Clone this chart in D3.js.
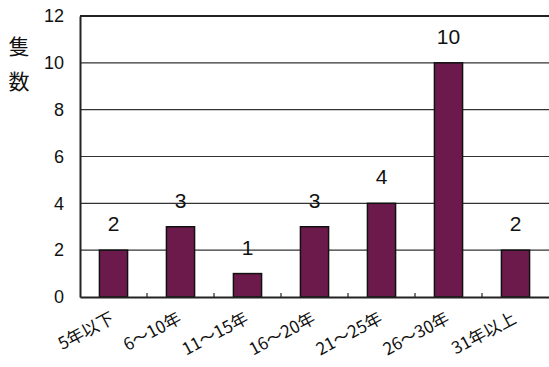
<!DOCTYPE html>
<html>
<head>
<meta charset="utf-8">
<script src="https://cdn.jsdelivr.net/npm/d3@7"></script>
<style>
  body { margin: 0; background: #fff; }
  svg { display: block; }
  text { font-family: "Liberation Sans", Arial, sans-serif; fill: #111; }
  .cjk { font-family: "Noto Sans CJK JP", sans-serif; }
</style>
</head>
<body>
<svg id="chart" width="549" height="367"></svg>
<script>
// categories and values
var categories = ["5年以下", "6～10年", "11～15年", "16～20年", "21～25年", "26～30年", "31年以上"];
var counts = [2, 3, 1, 3, 4, 10, 2];
var yTicks = [0, 2, 4, 6, 8, 10, 12];
var yTitle = ["隻", "数"];

var w = 549, h = 367,
    m = [16, 0, 70, 80]; // top right bottom left

var svg = d3.select("#chart");

var x = d3.scaleBand()
    .domain(categories)
    .range([m[3], w - m[1]])
    .paddingInner(0.58)
    .paddingOuter(0.29);

var y = d3.scaleLinear()
    .domain([0, 12])
    .range([h - m[2], m[0]]);

// gridlines
svg.append("g")
  .selectAll("line")
  .data(yTicks.filter(function (d) { return d > 0 && d < 12; }))
  .enter().append("line")
    .attr("x1", m[3]).attr("x2", w)
    .attr("y1", function (d) { return y(d); })
    .attr("y2", function (d) { return y(d); })
    .attr("stroke", "#333")
    .attr("stroke-width", 1.2);

// top border
svg.append("line")
  .attr("x1", m[3]).attr("x2", w)
  .attr("y1", y(12)).attr("y2", y(12))
  .attr("stroke", "#222").attr("stroke-width", 2);

// bars
svg.append("g")
  .selectAll("rect")
  .data(counts)
  .enter().append("rect")
    .attr("x", function (d, i) { return x(categories[i]); })
    .attr("y", function (d) { return y(d); })
    .attr("width", x.bandwidth())
    .attr("height", function (d) { return y(0) - y(d); })
    .attr("fill", "#6c1a4b")
    .attr("stroke", "#111")
    .attr("stroke-width", 1.5);

// value labels
svg.append("g")
  .selectAll("text")
  .data(counts)
  .enter().append("text")
    .attr("x", function (d, i) { return x(categories[i]) + x.bandwidth() / 2; })
    .attr("y", function (d) { return y(d) - 19; })
    .attr("text-anchor", "middle")
    .attr("font-size", 21)
    .text(function (d) { return d; });

// y axis
var yAxis = svg.append("g")
  .attr("transform", "translate(" + m[3] + ",0)")
  .call(d3.axisLeft(y).tickValues(yTicks).tickSize(0).tickPadding(16));
yAxis.select(".domain").attr("stroke", "#222").attr("stroke-width", 2);
yAxis.selectAll("text")
  .attr("font-size", 18)
  .attr("font-family", "Liberation Sans, Arial, sans-serif")
  .attr("fill", "#111");

// x axis with small inner ticks at band boundaries
var xAxis = svg.append("g")
  .attr("transform", "translate(0," + y(0) + ")")
  .call(d3.axisBottom(x).tickSize(0).tickFormat(""));
xAxis.select(".domain").attr("stroke", "#222").attr("stroke-width", 2);

svg.append("g")
  .selectAll("line")
  .data(categories.slice(1))
  .enter().append("line")
    .attr("x1", function (d) { return x(d) - x.step() * x.paddingInner() / 2; })
    .attr("x2", function (d) { return x(d) - x.step() * x.paddingInner() / 2; })
    .attr("y1", y(0)).attr("y2", y(0) - 4)
    .attr("stroke", "#222").attr("stroke-width", 1.2);

// rotated category labels
svg.append("g")
  .selectAll("text")
  .data(categories)
  .enter().append("text")
    .attr("class", "cjk")
    .attr("text-anchor", "end")
    .attr("font-size", 17)
    .attr("transform", function (d) {
      return "translate(" + (x(d) + x.bandwidth() / 2 + 2) + "," + (y(0) + 25) + ") rotate(-28)";
    })
    .text(function (d) { return d; });

// vertical y title
svg.append("g")
  .selectAll("text")
  .data(yTitle)
  .enter().append("text")
    .attr("class", "cjk")
    .attr("x", 19)
    .attr("y", function (d, i) { return 54 + i * 35; })
    .attr("text-anchor", "middle")
    .attr("font-size", 21)
    .text(function (d) { return d; });
</script>
</body>
</html>
